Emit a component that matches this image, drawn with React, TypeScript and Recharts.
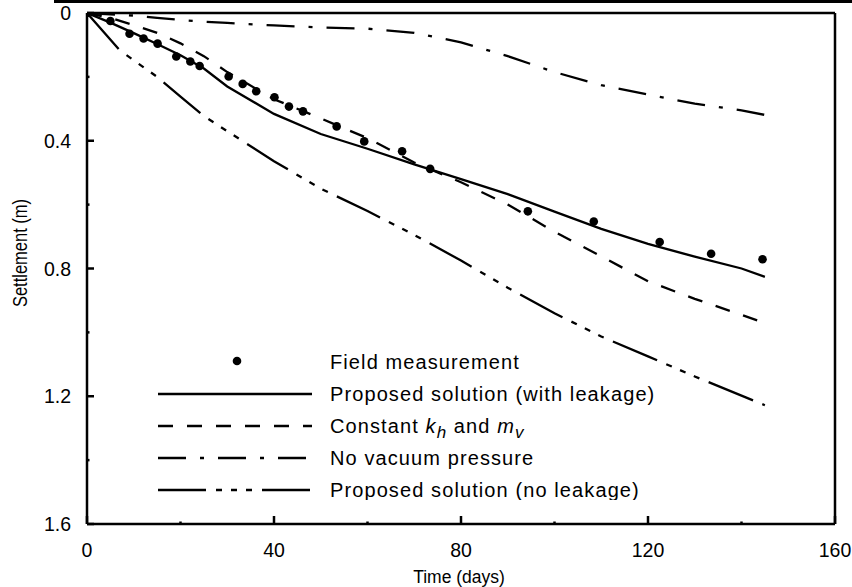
import {
  ComposedChart, Line, Scatter, XAxis, YAxis, Legend, ReferenceLine,
} from 'recharts';

// field measurement (days, m)
const fieldDays = [0, 5.0, 9.1, 12.1, 15.1, 19.1, 22.1, 24.1, 30.3, 33.3, 36.2, 40.1, 43.2, 46.2, 53.4, 59.3, 67.4, 73.4, 94.3, 108.4, 122.5, 133.5, 144.5];
const fieldSettlement = [0, 0.025, 0.065, 0.08, 0.096, 0.136, 0.152, 0.166, 0.199, 0.222, 0.245, 0.264, 0.293, 0.308, 0.355, 0.402, 0.433, 0.488, 0.621, 0.653, 0.717, 0.754, 0.771];

// model curves
const modelDays = [0, 5, 10, 15, 20, 25, 30, 40, 50, 60, 70, 80, 90, 100, 110, 120, 130, 140, 145];
const withLeakage = [0, 0.03, 0.063, 0.097, 0.132, 0.174, 0.23, 0.316, 0.379, 0.425, 0.474, 0.52, 0.567, 0.622, 0.676, 0.723, 0.763, 0.8, 0.826];
const constantKhMv = [0, 0.015, 0.038, 0.062, 0.095, 0.135, 0.185, 0.27, 0.33, 0.392, 0.468, 0.53, 0.6, 0.685, 0.762, 0.84, 0.895, 0.945, 0.971];
const noVacuum = [0, 0.004, 0.008, 0.015, 0.022, 0.027, 0.031, 0.039, 0.045, 0.049, 0.062, 0.092, 0.135, 0.185, 0.226, 0.255, 0.284, 0.305, 0.319];

const noLeakDays = [0, 7, 15, 20, 25, 30, 40, 50, 60, 70, 80, 90, 100, 110, 120, 130, 140, 145];
const noLeakage = [0, 0.117, 0.2, 0.262, 0.323, 0.37, 0.464, 0.55, 0.62, 0.695, 0.775, 0.86, 0.94, 1.013, 1.075, 1.138, 1.198, 1.228];

const xTicks = [0, 20, 40, 60, 80, 100, 120, 140, 160];
const yTicks = [0, 0.2, 0.4, 0.6, 0.8, 1.0, 1.2, 1.4, 1.6];

const seriesNames = [
  'Field measurement',
  'Proposed solution (with leakage)',
  'Constant kh and mv',
  'No vacuum pressure',
  'Proposed solution (no leakage)',
];
const dashes: Record<string, string | undefined> = {
  'Proposed solution (with leakage)': undefined,
  'Constant kh and mv': '15 14',
  'No vacuum pressure': '28 14 4 14',
  'Proposed solution (no leakage)': '48 10 6 9 6 9 6 10',
};

const FONT = '"Liberation Sans", Arial, sans-serif';

const toPts = (days: number[], vals: number[]) => days.map((t, i) => ({ t, s: vals[i] }));

const fieldData = toPts(fieldDays, fieldSettlement);
const leakData = toPts(modelDays, withLeakage);
const constData = toPts(modelDays, constantKhMv);
const noVacData = toPts(modelDays, noVacuum);
const noLeakData = toPts(noLeakDays, noLeakage);

function XTick(props: any) {
  const { x, y, payload } = props;
  const v = payload.value;
  const major = v % 40 === 0;
  return (
    <g>
      <line x1={x} y1={y} x2={x} y2={y - (major ? 8 : 2.5)} stroke="#000" strokeWidth={2.5} />
      {major && (
        <text x={x} y={y + 33} textAnchor="middle" fontSize={19.5} fontFamily={FONT} fill="#000">{v}</text>
      )}
    </g>
  );
}

function YTick(props: any) {
  const { x, y, payload } = props;
  const v = payload.value;
  const major = Math.round(v * 10) % 4 === 0;
  return (
    <g>
      <line x1={x} y1={y} x2={x + (major ? 7 : 2.5)} y2={y} stroke="#000" strokeWidth={2.5} />
      {major && (
        <text x={x - 16} y={y + 7} textAnchor="end" fontSize={19.5} fontFamily={FONT} fill="#000">
          {v === 0 ? '0' : v.toFixed(1)}
        </text>
      )}
    </g>
  );
}

function legendLabel(name: string) {
  if (name === 'Constant kh and mv') {
    return (
      <>
        Constant <tspan fontStyle="italic">k</tspan>
        <tspan fontStyle="italic" fontSize={17} dy={5}>h</tspan>
        <tspan dy={-5}> and </tspan>
        <tspan fontStyle="italic">m</tspan>
        <tspan fontStyle="italic" fontSize={17} dy={5}>v</tspan>
      </>
    );
  }
  return name;
}

function renderLegend(props: any) {
  const items = [...(props.payload ?? [])].sort(
    (a: any, b: any) => seriesNames.indexOf(a.value) - seriesNames.indexOf(b.value),
  );
  return (
    <svg width={560} height={160} style={{ display: 'block' }}>
      {items.map((it: any, i: number) => {
        const cy = 21 + i * 32;
        return (
          <g key={it.value}>
            {it.value === 'Field measurement' ? (
              <circle cx={87} cy={cy} r={4.3} fill="#000" />
            ) : (
              <line x1={8} y1={cy + 1} x2={162} y2={cy + 1} stroke="#000" strokeWidth={2.3}
                strokeDasharray={dashes[it.value]} />
            )}
            <text x={180} y={cy + 8} fontSize={20} letterSpacing={1.1} fontFamily={FONT} fill="#000">
              {legendLabel(it.value)}
            </text>
          </g>
        );
      })}
    </svg>
  );
}

export default function App() {
  return (
    <div style={{ position: 'absolute', left: 0, top: 0, width: 852, height: 587, background: '#fff' }}>
      <div style={{ position: 'absolute', left: 54, top: 0, width: 798, height: 2.5, background: '#000' }} />
      <ComposedChart width={852} height={587} margin={{ top: 13, right: 17, left: 0, bottom: 0 }}>
        <XAxis
          type="number" dataKey="t" domain={[0, 160]} ticks={xTicks} interval={0}
          tick={<XTick />} tickLine={false} tickSize={0} tickMargin={0} height={63}
          axisLine={{ stroke: '#000', strokeWidth: 2.5 }} allowDataOverflow
          label={{
            content: (p: any) => (
              <text x={p.viewBox.x + 372} y={p.viewBox.y + 59} textAnchor="middle"
                fontSize={17.5} fontFamily={FONT} fill="#000">Time (days)</text>
            ),
          }}
        />
        <YAxis
          type="number" dataKey="s" domain={[0, 1.6]} reversed ticks={yTicks} interval={0}
          tick={<YTick />} tickLine={false} tickSize={0} tickMargin={0} width={87}
          axisLine={{ stroke: '#000', strokeWidth: 2.5 }} allowDataOverflow
          label={{
            content: () => (
              <g transform="translate(20 253) rotate(-90) scale(1 1.2)">
                <text x={0} y={0} textAnchor="middle" dominantBaseline="central"
                  fontSize={16.5} fontFamily={FONT} fill="#000">Settlement (m)</text>
              </g>
            ),
          }}
        />
        <ReferenceLine y={0} stroke="#000" strokeWidth={2.5} />
        <ReferenceLine x={160} stroke="#000" strokeWidth={2.5} />
        <Line data={leakData} dataKey="s" name={seriesNames[1]} stroke="#000" strokeWidth={2.3}
          dot={false} type="linear" isAnimationActive={false} />
        <Line data={constData} dataKey="s" name={seriesNames[2]} stroke="#000" strokeWidth={2.3}
          strokeDasharray={dashes[seriesNames[2]]} dot={false} type="linear" isAnimationActive={false} />
        <Line data={noVacData} dataKey="s" name={seriesNames[3]} stroke="#000" strokeWidth={2.3}
          strokeDasharray={dashes[seriesNames[3]]} dot={false} type="linear" isAnimationActive={false} />
        <Line data={noLeakData} dataKey="s" name={seriesNames[4]} stroke="#000" strokeWidth={2.3}
          strokeDasharray={dashes[seriesNames[4]]} dot={false} type="linear" isAnimationActive={false} />
        <Scatter data={fieldData} dataKey="s" name={seriesNames[0]} fill="#000" isAnimationActive={false}
          shape={(p: any) => <circle cx={p.cx} cy={p.cy} r={4.3} fill="#000" />} />
        <Legend layout="vertical" align="center" verticalAlign="middle" content={renderLegend}
          wrapperStyle={{ left: 150, top: 340, width: 560, height: 160 }} />
      </ComposedChart>
    </div>
  );
}
